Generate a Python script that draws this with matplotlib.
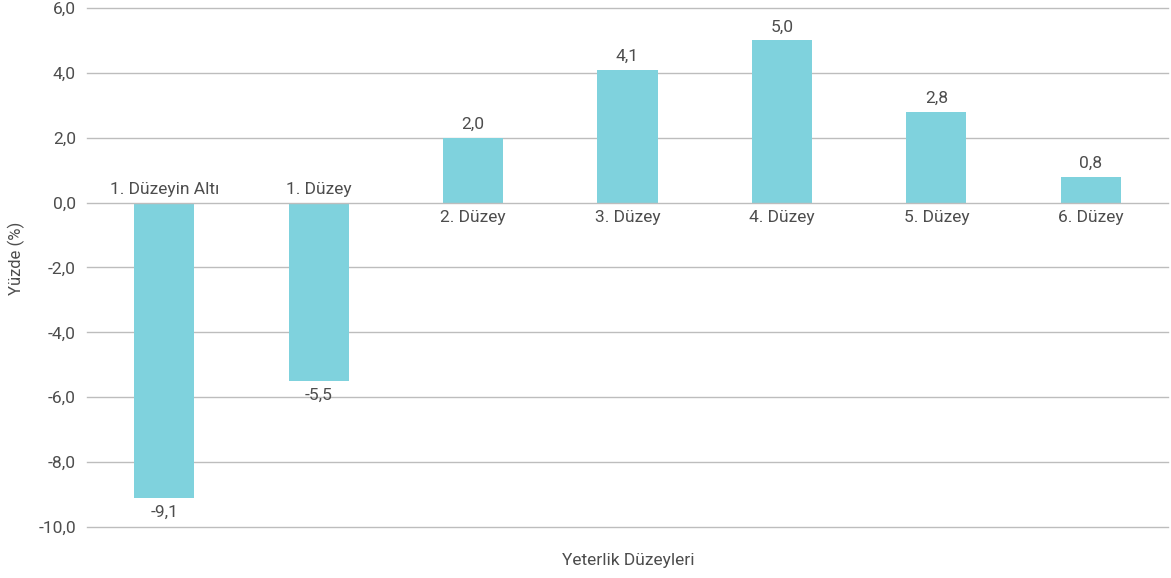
import matplotlib
matplotlib.use("Agg")
import matplotlib.pyplot as plt

categories = ["1. Düzeyin Altı", "1. Düzey", "2. Düzey", "3. Düzey", "4. Düzey", "5. Düzey", "6. Düzey"]
values = [-9.1, -5.5, 2.0, 4.1, 5.0, 2.8, 0.8]
yticks = [-10, -8, -6, -4, -2, 0, 2, 4, 6]

plt.rcParams['font.family'] = ['Roboto', 'DejaVu Sans']
txt = '#4d4d4d'
bar_color = '#7fd2dd'

fig = plt.figure(figsize=(11.71, 5.78), dpi=100)
ax = fig.add_axes([0.0743, 0.0882, 0.9231, 0.898])

x = list(range(len(categories)))
ax.bar(x, values, width=0.39, color=bar_color, zorder=2)

ax.set_xlim(-0.5, len(categories) - 0.5)
ax.set_ylim(-10, 6)
ax.set_yticks(yticks)
ax.set_yticklabels([f"{t:.1f}".replace('.', ',') for t in yticks])
for t in yticks:
    ax.axhline(t, color='#bdbdbd', linewidth=1.0, zorder=3 if t == 0 else 1, clip_on=False)
ax.set_xticks([])
for s in ax.spines.values():
    s.set_visible(False)
ax.tick_params(axis='y', length=0, pad=8, labelsize=12.5, labelcolor=txt)

for xi, v, c in zip(x, values, categories):
    lbl = f"{v:.1f}".replace('.', ',')
    if v >= 0:
        ax.annotate(lbl, (xi, v), xytext=(0, 4), textcoords='offset points',
                    ha='center', va='bottom', fontsize=12.5, color=txt)
        ax.annotate(c, (xi, 0), xytext=(0, -5), textcoords='offset points',
                    ha='center', va='top', fontsize=12.5, color=txt)
    else:
        ax.annotate(lbl, (xi, v), xytext=(0, -5), textcoords='offset points',
                    ha='center', va='top', fontsize=12.5, color=txt)
        ax.annotate(c, (xi, 0), xytext=(0, 4), textcoords='offset points',
                    ha='center', va='bottom', fontsize=12.5, color=txt)

fig.text(0.014, 0.553, "Yüzde (%)", ha='center', va='center', rotation=90, fontsize=12, color=txt)
fig.text(0.5365, 0.031, "Yeterlik Düzeyleri", ha='center', va='center', fontsize=12.5, color=txt)

fig.savefig("out.png", dpi=100)
